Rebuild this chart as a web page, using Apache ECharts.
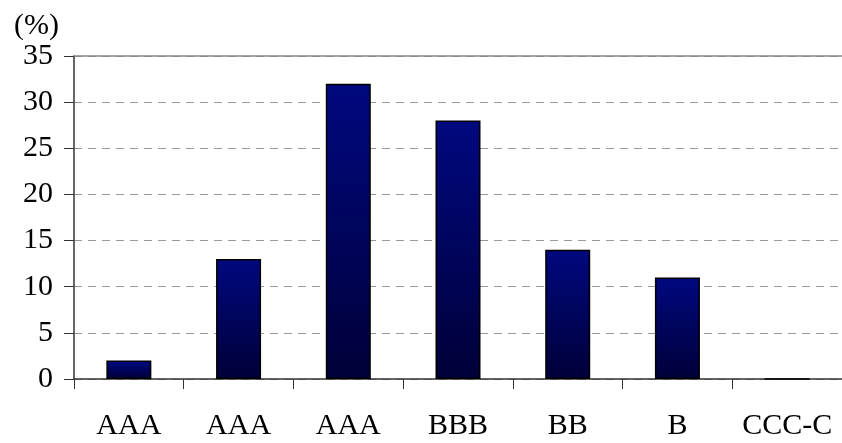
<!DOCTYPE html>
<html><head><meta charset="utf-8">
<script src="https://cdn.jsdelivr.net/npm/echarts@6/dist/echarts.min.js"></script>
<style>html,body{margin:0;padding:0;background:#fff}#c{width:842px;height:443px}</style>
</head><body><div id="c"></div>
<script>
const categories = ['AAA', 'AAA', 'AAA', 'BBB', 'BB', 'B', 'CCC-C'];
const values = [2, 13, 32, 28, 14, 11, 0];
const yTicks = [0, 5, 10, 15, 20, 25, 30, 35];
const font = '"Liberation Serif", "Times New Roman", serif';
const chart = echarts.init(document.getElementById('c'));
chart.setOption({
  animation: false,
  graphic: [{
    type: 'text', left: 14, top: 11,
    style: { text: '(%)', font: '30px ' + font, fill: '#000' }
  }],
  grid: { left: 74, right: -4, top: 56, bottom: 64, containLabel: false },
  xAxis: [{
    type: 'category', data: categories,
    axisLine: { lineStyle: { color: '#333', width: 1.5 } },
    axisTick: { show: true, interval: 0, length: 10, lineStyle: { color: '#333' } },
    axisLabel: { interval: 0, hideOverlap: false, fontFamily: font, fontSize: 30, color: '#000', margin: 32 }
  }, {
    type: 'category', data: categories, position: 'top',
    axisLine: { show: true, lineStyle: { color: '#888', width: 1.5 } },
    axisTick: { show: false }, axisLabel: { show: false }
  }],
  yAxis: {
    type: 'value', min: yTicks[0], max: yTicks[yTicks.length - 1], interval: 5,
    axisLine: { show: true, lineStyle: { color: '#333', width: 1.5 } },
    axisTick: { show: true, length: 10, lineStyle: { color: '#333' } },
    axisLabel: { fontFamily: font, fontSize: 30, color: '#000', margin: 21 },
    splitLine: { show: true, lineStyle: { color: '#999', type: [8, 6], width: 1 } }
  },
  series: [{
    type: 'bar', data: values, barWidth: 45,
    itemStyle: {
      borderColor: '#000', borderWidth: 1.5,
      color: new echarts.graphic.LinearGradient(0, 0, 0, 1, [
        { offset: 0, color: '#00087f' },
        { offset: 1, color: '#000038' }
      ])
    }
  }]
});
</script></body></html>
